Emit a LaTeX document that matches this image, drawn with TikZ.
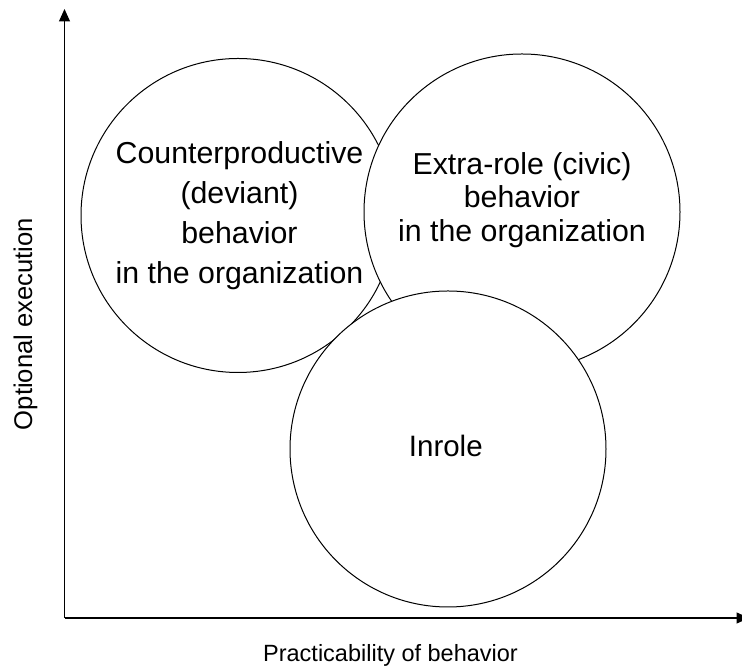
\documentclass[tikz,border=0pt]{standalone}
\usepackage{fontspec}
\setmainfont{Liberation Sans}
\usetikzlibrary{arrows.meta}

\begin{document}
\begin{tikzpicture}[x=1pt, y=1pt]
		\useasboundingbox (0, 0) rectangle (742, 668);
		\coordinate (origin) at (64.5, 50);
		\coordinate (ytop) at (64.5, 659);
		\coordinate (xend) at (749, 50);
		\draw[line width=1.3pt, -{Triangle[length=12.5pt, width=11pt]}] (origin) -- (ytop);
		\draw[line width=1.3pt, -{Triangle[length=12.5pt, width=11pt]}] (origin) -- (xend);
		\foreach \x/\y/\r in {238/452.5/157, 522/456/158, 448/219/158}
			\filldraw[fill=white, line width=1pt] (\x, \y) circle (\r pt);
		\node[align=center, font=\fontsize{30.3}{40.2}\selectfont] (deviant) at (239.5, 452.5) {Counterproductive\\(deviant)\\behavior\\in the organization};
		\node[align=center, font=\fontsize{30.3}{33.5}\selectfont] (civic) at (522, 468) {Extra-role (civic)\\behavior\\in the organization};
		\node[anchor=base, font=\fontsize{29.5}{35}\selectfont] (inrole) at (445.8, 211.3) {Inrole};
		\node[anchor=base, rotate=90, font=\fontsize{25.6}{30}\selectfont] (ylabel) at (32, 344) {Optional execution};
		\node[anchor=base, font=\fontsize{23.5}{28}\selectfont] (xlabel) at (390.5, 6.3) {Practicability of behavior};
	\end{tikzpicture}
\end{document}
